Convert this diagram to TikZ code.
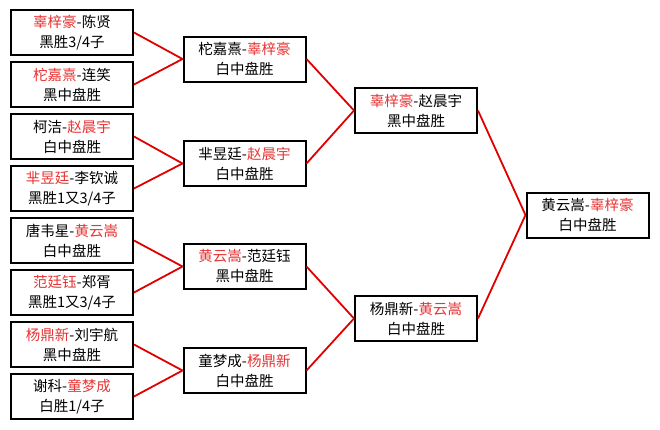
\documentclass[tikz,border=0pt]{standalone}
\usepackage{fontspec}
\newfontfamily\cjk{Noto Sans CJK SC}
\definecolor{namered}{RGB}{232,52,52}
\definecolor{linkred}{RGB}{225,0,0}
\newcommand{\rn}[1]{\textcolor{namered}{#1}}
\begin{document}
\begin{tikzpicture}[x=1pt,y=-1pt,
  game/.style={draw=black, line width=2pt, fill=white, minimum width=122pt, minimum height=45pt,
    inner sep=0pt, align=center, font=\cjk\fontsize{14.5}{20}\selectfont},
  link/.style={draw=linkred, line width=1.8pt}]
\fill[white] (0,0) rectangle (660,429);
\useasboundingbox (0,0) rectangle (660,429);
% first round
\node[game] (L1) at (72,32.5)  {\rn{辜梓豪}-陈贤\\黑胜3/4子};
\node[game] (L2) at (72,84.5)  {\rn{柁嘉熹}-连笑\\黑中盘胜};
\node[game] (L3) at (72,136.5) {柯洁-\rn{赵晨宇}\\白中盘胜};
\node[game] (L4) at (72,188.5) {\rn{芈昱廷}-李钦诚\\黑胜1又3/4子};
\node[game] (L5) at (72,240.5) {唐韦星-\rn{黄云嵩}\\白中盘胜};
\node[game] (L6) at (72,292.5) {\rn{范廷钰}-郑胥\\黑胜1又3/4子};
\node[game] (L7) at (72,344.5) {\rn{杨鼎新}-刘宇航\\黑中盘胜};
\node[game] (L8) at (72,396.5) {谢科-\rn{童梦成}\\白胜1/4子};
% second round
\node[game] (M1) at (244.5,59)    {柁嘉熹-\rn{辜梓豪}\\白中盘胜};
\node[game] (M2) at (244.5,163.5) {芈昱廷-\rn{赵晨宇}\\白中盘胜};
\node[game] (M3) at (244.5,266.5) {\rn{黄云嵩}-范廷钰\\黑中盘胜};
\node[game] (M4) at (244.5,370.5) {童梦成-\rn{杨鼎新}\\白中盘胜};
% semifinals
\node[game] (R1) at (416,110.5) {\rn{辜梓豪}-赵晨宇\\黑中盘胜};
\node[game] (R2) at (416,318.5) {杨鼎新-\rn{黄云嵩}\\白中盘胜};
% final
\node[game] (F) at (587.5,215) {黄云嵩-\rn{辜梓豪}\\白中盘胜};
% connectors
\draw[link] (L1.east) -- (M1.west);
\draw[link] (L2.east) -- (M1.west);
\draw[link] (L3.east) -- (M2.west);
\draw[link] (L4.east) -- (M2.west);
\draw[link] (L5.east) -- (M3.west);
\draw[link] (L6.east) -- (M3.west);
\draw[link] (L7.east) -- (M4.west);
\draw[link] (L8.east) -- (M4.west);
\draw[link] (M1.east) -- (R1.west);
\draw[link] (M2.east) -- (R1.west);
\draw[link] (M3.east) -- (R2.west);
\draw[link] (M4.east) -- (R2.west);
\draw[link] (R1.east) -- (F.west);
\draw[link] (R2.east) -- (F.west);
\end{tikzpicture}
\end{document}
